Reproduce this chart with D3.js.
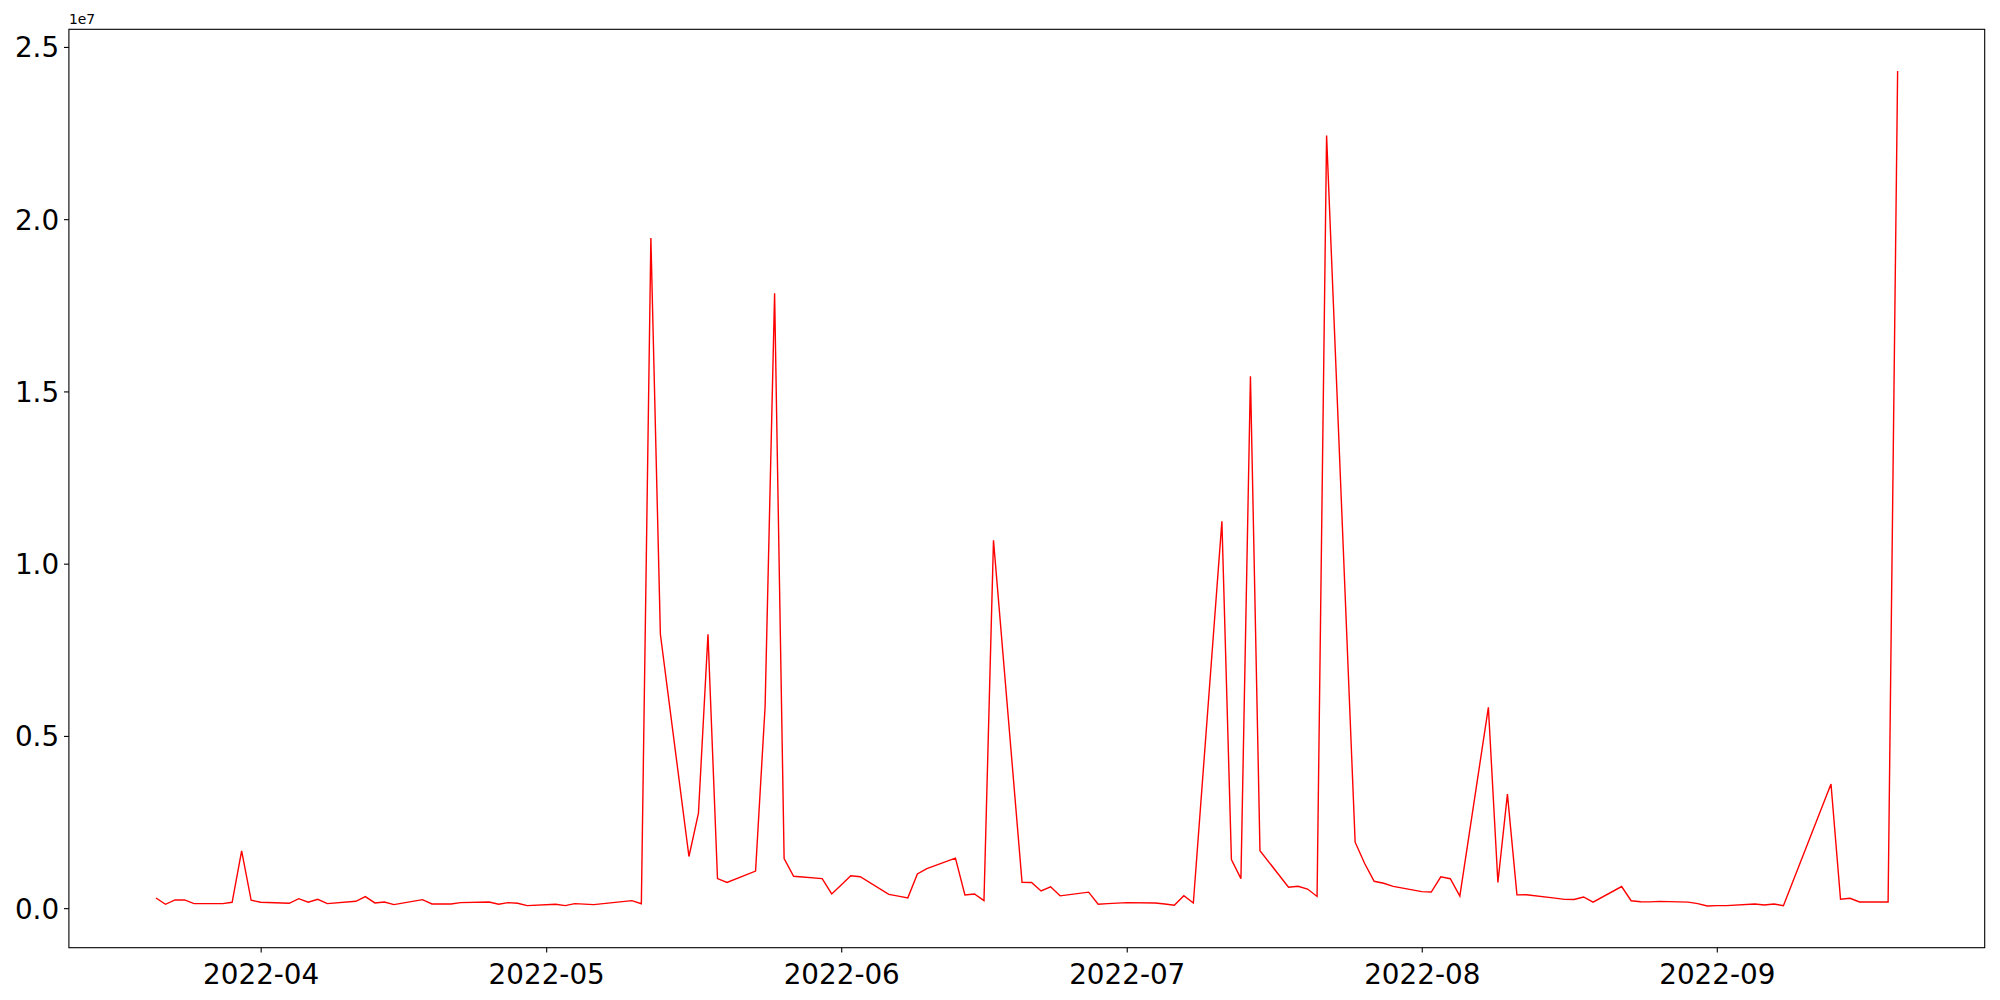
<!DOCTYPE html>
<html>
<head>
<meta charset="UTF-8">
<script src="https://d3js.org/d3.v7.min.js"></script>
<style>
  body { margin: 0; background: #fff; }
  svg { display: block; font-family: "DejaVu Sans", sans-serif; }
  .axis .domain { display: none; }
  .axis line { stroke: #000; stroke-width: 1.1px; }
  .axis text { font-size: 27.8px; fill: #000; font-family: "DejaVu Sans", sans-serif; }
  .frame { fill: none; stroke: #000; stroke-width: 1.1px; }
</style>
</head>
<body>
<svg id="chart" width="2000" height="1000"></svg>
<script>
// dates of the series (daily, gaps where no value)
const dates = [
  "2022-03-21","2022-03-22","2022-03-23","2022-03-24","2022-03-25","2022-03-28","2022-03-29","2022-03-30","2022-03-31",
  "2022-04-01","2022-04-04","2022-04-05","2022-04-06","2022-04-07","2022-04-08","2022-04-11","2022-04-12","2022-04-13",
  "2022-04-14","2022-04-15","2022-04-18","2022-04-19","2022-04-20","2022-04-21","2022-04-22","2022-04-25","2022-04-26",
  "2022-04-27","2022-04-28","2022-04-29","2022-05-02","2022-05-03","2022-05-04","2022-05-05","2022-05-06","2022-05-10",
  "2022-05-11","2022-05-12","2022-05-13","2022-05-16","2022-05-17","2022-05-18","2022-05-19","2022-05-20","2022-05-23",
  "2022-05-24","2022-05-25","2022-05-26","2022-05-27","2022-05-30","2022-05-31","2022-06-01","2022-06-02","2022-06-03",
  "2022-06-06","2022-06-07","2022-06-08","2022-06-09","2022-06-10","2022-06-13","2022-06-14","2022-06-15","2022-06-16",
  "2022-06-17","2022-06-20","2022-06-21","2022-06-22","2022-06-23","2022-06-24","2022-06-27","2022-06-28","2022-06-29",
  "2022-06-30","2022-07-01","2022-07-04","2022-07-05","2022-07-06","2022-07-07","2022-07-08","2022-07-11","2022-07-12",
  "2022-07-13","2022-07-14","2022-07-15","2022-07-18","2022-07-19","2022-07-20","2022-07-21","2022-07-22","2022-07-25",
  "2022-07-26","2022-07-27","2022-07-28","2022-07-29","2022-08-01","2022-08-02","2022-08-03","2022-08-04","2022-08-05",
  "2022-08-08","2022-08-09","2022-08-10","2022-08-11","2022-08-12","2022-08-15","2022-08-16","2022-08-17","2022-08-18",
  "2022-08-19","2022-08-22","2022-08-23","2022-08-24","2022-08-25","2022-08-26","2022-08-29","2022-08-30","2022-08-31",
  "2022-09-01","2022-09-02","2022-09-05","2022-09-06","2022-09-07","2022-09-08","2022-09-13","2022-09-14","2022-09-15",
  "2022-09-16","2022-09-19","2022-09-20"
];

// value for each date
const values = [
  296000, 113000, 238000, 238000, 131000, 131000, 171000, 1660000, 229000,
  171000, 142000, 276000, 171000, 258000, 131000, 200000, 334000, 151000,
  180000, 102000, 247000, 122000, 122000, 122000, 160000, 180000, 113000,
  160000, 142000, 73000, 113000, 73000, 131000, 116000, 102000, 218000,
  130000, 19450000, 7950000, 1500000, 2760000, 7950000, 857000, 746000, 1077000,
  5840000, 17850000, 1440000, 926000, 857000, 412000, 675000, 938000, 912000,
  398000, 349000, 299000, 993000, 1150000, 1452000, 383000, 412000, 218000,
  10680000, 750000, 744000, 500000, 620000, 358000, 465000, 116000, 131000,
  145000, 160000, 151000, 120000, 84000, 363000, 151000, 11230000, 1410000,
  857000, 15440000, 1670000, 606000, 636000, 555000, 340000, 22430000, 1915000,
  1295000, 780000, 724000, 633000, 480000, 467000, 910000, 854000, 348000,
  5830000, 745000, 3310000, 385000, 389000, 290000, 255000, 250000, 325000,
  172000, 628000, 216000, 186000, 181000, 198000, 175000, 130000, 64000,
  73000, 73000, 122000, 93000, 122000, 73000, 3606000, 258000, 287000,
  180000, 180000, 24300000
];

const yTicks = [0, 5e6, 1e7, 1.5e7, 2e7, 2.5e7];

const svg = d3.select('#chart');
const margin = { top: 29.3, right: 15.3, bottom: 52.3, left: 68.9 };
const width = 2000 - margin.left - margin.right;
const height = 1000 - margin.top - margin.bottom;

const parse = d3.utcParse('%Y-%m-%d');
const data = dates.map((d, i) => ({ date: parse(d), value: values[i] }));

// matplotlib style 5% margins on both axes
const xExt = d3.extent(data, d => d.date);
const xPad = (xExt[1] - xExt[0]) * 0.05;
const yExt = d3.extent(data, d => d.value);
const yPad = (yExt[1] - yExt[0]) * 0.05;

const x = d3.scaleUtc()
  .domain([new Date(+xExt[0] - xPad), new Date(+xExt[1] + xPad)])
  .range([0, width]);
const y = d3.scaleLinear()
  .domain([yExt[0] - yPad, yExt[1] + yPad])
  .range([height, 0]);

const g = svg.append('g').attr('transform', 'translate(' + margin.left + ',' + margin.top + ')');

// line
const line = d3.line().x(d => x(d.date)).y(d => y(d.value));
g.append('path').datum(data)
  .attr('fill', 'none')
  .attr('stroke', '#ff0000')
  .attr('stroke-width', 1.4)
  .attr('stroke-linejoin', 'miter')
  .attr('d', line);

// x axis
const xAxis = g.append('g').attr('class', 'axis')
  .attr('transform', 'translate(0,' + height + ')')
  .call(d3.axisBottom(x).ticks(d3.utcMonth.every(1)).tickFormat(d3.utcFormat('%Y-%m'))
    .tickSizeInner(4.9).tickSizeOuter(0).tickPadding(4.9));
xAxis.selectAll('text').attr('dy', '0.95em');

// y axis
const yAxis = g.append('g').attr('class', 'axis')
  .call(d3.axisLeft(y).tickValues(yTicks).tickFormat(d => (d / 1e7).toFixed(1))
    .tickSizeInner(4.9).tickSizeOuter(0).tickPadding(4.9));
yAxis.selectAll('text').attr('dy', '0.36em');

// frame
g.append('rect').attr('class', 'frame')
  .attr('x', 0).attr('y', 0).attr('width', width).attr('height', height);

// offset text
g.append('text')
  .attr('x', 0).attr('y', -5)
  .attr('font-size', '13.9px')
  .attr('font-family', 'DejaVu Sans, sans-serif')
  .text('1e7');
</script>
</body>
</html>
